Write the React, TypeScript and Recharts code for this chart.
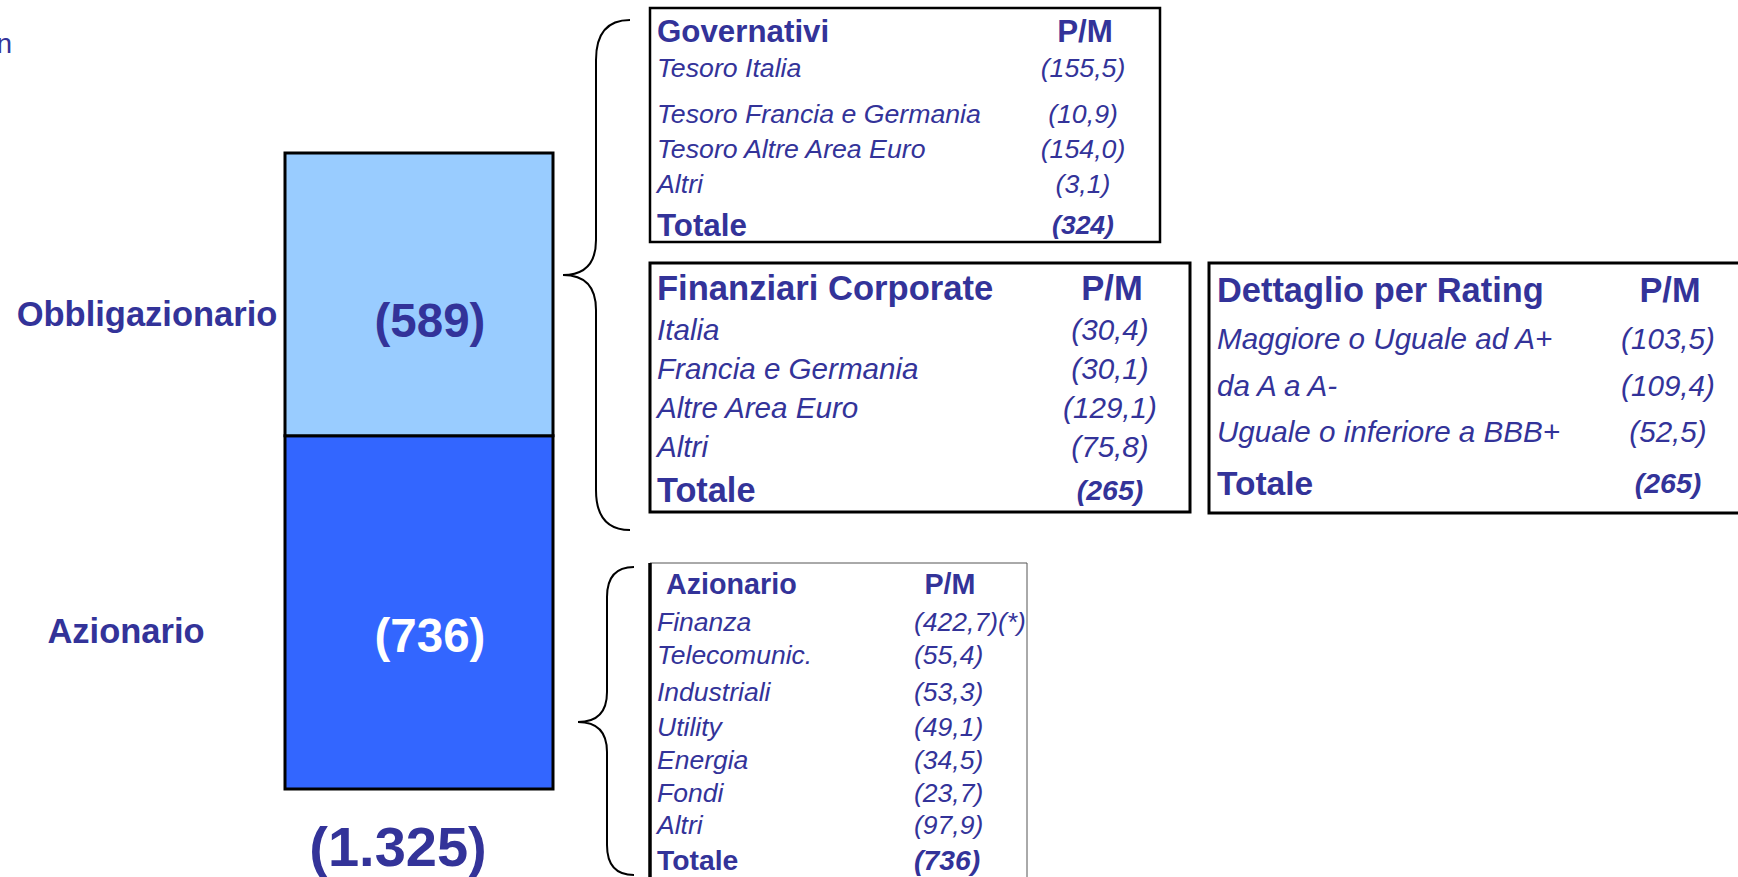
import React from 'react';
import { BarChart, Bar, XAxis, YAxis, LabelList } from 'recharts';

// stacked column: equity + bonds (P/M, € mln)
const seriesNames = ['Azionario', 'Obbligazionario'];
const seriesValues = [736, 589];
const seriesColors = ['#3366FF', '#99CCFF'];
const unitLabel = '€ mln';

// detail tables
const govLabels = ['Tesoro Italia', 'Tesoro Francia e Germania', 'Tesoro Altre Area Euro', 'Altri'];
const govValues = ['(155,5)', '(10,9)', '(154,0)', '(3,1)'];
const govTotal = '(324)';

const corpLabels = ['Italia', 'Francia e Germania', 'Altre Area Euro', 'Altri'];
const corpValues = ['(30,4)', '(30,1)', '(129,1)', '(75,8)'];
const corpTotal = '(265)';

const ratingLabels = ['Maggiore o Uguale ad A+', 'da A a A-', 'Uguale o inferiore a BBB+'];
const ratingValues = ['(103,5)', '(109,4)', '(52,5)'];
const ratingTotal = '(265)';

const eqLabels = ['Finanza', 'Telecomunic.', 'Industriali', 'Utility', 'Energia', 'Fondi', 'Altri'];
const eqValues = ['(422,7)(*)', '(55,4)', '(53,3)', '(49,1)', '(34,5)', '(23,7)', '(97,9)'];
const eqTotal = '(736)';

const FONT = '"Liberation Sans", Arial, Helvetica, sans-serif';
const INK = '#333399';

const fmtPM = (v: number) => {
  const s = String(Math.round(v)).replace(/\B(?=(\d{3})+(?!\d))/g, '.');
  return `(${s})`;
};

const chartData = [
  seriesNames.reduce((acc: any, n, i) => {
    acc[n] = seriesValues[i];
    return acc;
  }, { name: 'Totale' }),
];
const grandTotal = seriesValues.reduce((a, b) => a + b, 0);

// per-series label placement (name on the left, value inside the block)
const labelCfg: Record<string, any> = {
  Azionario: { nameX: 126, nameDy: 19, valDx: 11, valDy: 23, valColor: '#ffffff' },
  Obbligazionario: { nameX: 147, nameDy: 20, valDx: 11, valDy: 26, valColor: INK },
};

const makeSegLabel = (key: string, withTotal: boolean) => (props: any) => {
  const { x, y, width, height, value } = props;
  const c = labelCfg[key];
  const cx = x + width / 2;
  const cy = y + height / 2;
  return (
    <g>
      <text x={c.nameX} y={cy + c.nameDy} textAnchor="middle" dominantBaseline="central"
        fontFamily={FONT} fontWeight="bold" fontSize={34.5} fill={INK}>{key}</text>
      <text x={cx + c.valDx} y={cy + c.valDy} textAnchor="middle" dominantBaseline="central"
        fontFamily={FONT} fontWeight="bold" fontSize={47.5} fill={c.valColor}>{fmtPM(value)}</text>
      {withTotal && (
        <text x={cx - 21} y={y + height + 57} textAnchor="middle" dominantBaseline="central"
          fontFamily={FONT} fontWeight="bold" fontSize={56} fill={INK}>{fmtPM(grandTotal)}</text>
      )}
    </g>
  );
};

type TableProps = {
  textX: number;
  valX: number;
  valAnchor?: 'middle' | 'start';
  title: string;
  titleX?: number;
  headY: number;
  rowY: number[];
  totY: number;
  labels: string[];
  values: string[];
  total: string;
  headSize: number;
  rowSize: number;
  totSize: number;
  totValSize: number;
};

const DetailTable = (p: TableProps) => {
  const anchor = p.valAnchor || 'middle';
  const common = { fontFamily: FONT, fill: INK, dominantBaseline: 'central' as const };
  return (
    <g>
      <text x={p.titleX ?? p.textX} y={p.headY} fontWeight="bold" fontSize={p.headSize} {...common}>{p.title}</text>
      <text x={anchor === 'middle' ? p.valX + 2 : p.valX + 36} y={p.headY} textAnchor="middle"
        fontWeight="bold" fontSize={p.headSize} {...common}>P/M</text>
      {p.labels.map((l, i) => (
        <g key={l + i}>
          <text x={p.textX} y={p.rowY[i]} fontStyle="italic" fontSize={p.rowSize} {...common}>{l}</text>
          <text x={p.valX} y={p.rowY[i]} textAnchor={anchor} fontStyle="italic" fontSize={p.rowSize} {...common}>
            {p.values[i]}
          </text>
        </g>
      ))}
      <text x={p.textX} y={p.totY} fontWeight="bold" fontSize={p.totSize} {...common}>Totale</text>
      <text x={p.valX} y={p.totY} textAnchor={anchor} fontWeight="bold" fontStyle="italic"
        fontSize={p.totValSize} {...common}>{p.total}</text>
    </g>
  );
};

export default function App() {
  return (
    <div style={{ position: 'absolute', left: 0, top: 0, width: 1738, height: 877, background: '#fff' }}>
      <BarChart
        width={1738}
        height={877}
        data={chartData}
        margin={{ top: 153, right: 1185, bottom: 88, left: 285 }}
        barCategoryGap={0}
      >
        <XAxis dataKey="name" hide />
        <YAxis hide domain={[0, grandTotal]} />
        {seriesNames.map((n, i) => (
          <Bar key={n} dataKey={n} stackId="pm" fill={seriesColors[i]} stroke="#000" strokeWidth={3}
            isAnimationActive={false}>
            <LabelList dataKey={n} content={makeSegLabel(n, i === 0)} />
          </Bar>
        ))}

        {/* unit note, cut at the left edge as in the source slide */}
        <text x={12} y={53} textAnchor="end" fontFamily={FONT} fontSize={28} fill={INK}>{unitLabel}</text>

        {/* braces */}
        <path d="M630,20 Q596,20 596,60 L596,240 Q596,275 563,275 Q596,275 596,310 L596,490 Q596,530 630,530"
          fill="none" stroke="#000" strokeWidth={2} />
        <path d="M634,567 Q607,567 607,597 L607,692 Q607,722 578,722 Q607,722 607,752 L607,845 Q607,875 634,875"
          fill="none" stroke="#000" strokeWidth={2} />

        {/* boxes */}
        <rect x={650} y={8} width={510} height={234} fill="none" stroke="#000" strokeWidth={2.5} />
        <rect x={650} y={263} width={540} height={249} fill="none" stroke="#000" strokeWidth={3} />
        <rect x={1209} y={263} width={600} height={250} fill="none" stroke="#000" strokeWidth={3} />
        <line x1={650} y1={563} x2={1027} y2={563} stroke="#555" strokeWidth={1} />
        <line x1={1027} y1={563} x2={1027} y2={877} stroke="#555" strokeWidth={1} />
        <line x1={650} y1={563} x2={650} y2={877} stroke="#000" strokeWidth={3.5} />

        <DetailTable
          title="Governativi" textX={657} valX={1083} headY={31}
          rowY={[68, 114, 149, 184]} totY={225}
          labels={govLabels} values={govValues} total={govTotal}
          headSize={31.3} rowSize={26.7} totSize={31.3} totValSize={26.5}
        />
        <DetailTable
          title="Finanziari Corporate" textX={657} valX={1110} headY={288}
          rowY={[329, 368, 407, 446]} totY={490}
          labels={corpLabels} values={corpValues} total={corpTotal}
          headSize={34.6} rowSize={29.6} totSize={34.3} totValSize={28.5}
        />
        <DetailTable
          title="Dettaglio per Rating" textX={1217} valX={1668} headY={290}
          rowY={[338, 385, 431]} totY={483}
          labels={ratingLabels} values={ratingValues} total={ratingTotal}
          headSize={34.4} rowSize={29.6} totSize={33.5} totValSize={28.5}
        />
        <DetailTable
          title="Azionario" titleX={666} textX={657} valX={914} valAnchor="start" headY={584}
          rowY={[622, 655, 692, 727, 760, 793, 825]} totY={860}
          labels={eqLabels} values={eqValues} total={eqTotal}
          headSize={28.7} rowSize={26.5} totSize={28.3} totValSize={28.3}
        />
      </BarChart>
    </div>
  );
}
